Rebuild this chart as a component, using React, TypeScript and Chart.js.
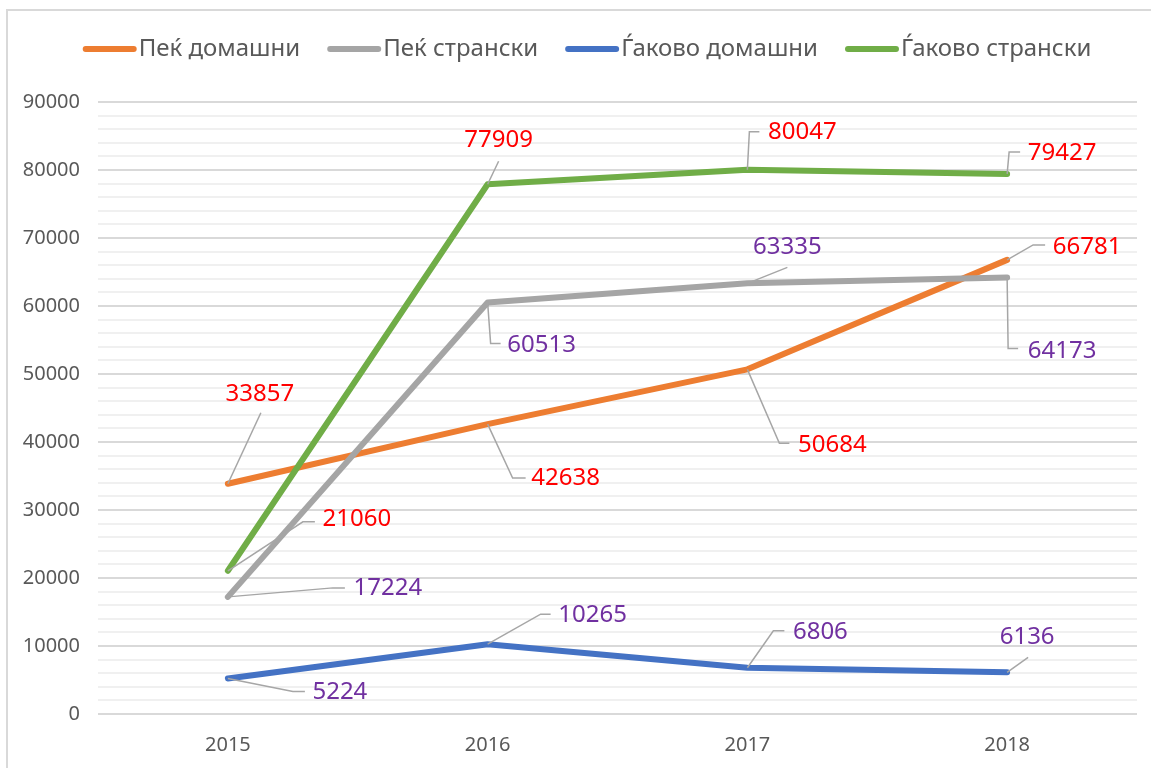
import React, { useEffect, useRef } from "react";
import { Chart, registerables } from "chart.js";

Chart.register(...registerables);

// ---------- data ----------
const YEARS = ["2015", "2016", "2017", "2018"];
const SERIES_NAMES = ["Пеќ домашни", "Пеќ странски", "Ѓаково домашни", "Ѓаково странски"];
const PEC_DOMESTIC = [33857, 42638, 50684, 66781];
const PEC_FOREIGN = [17224, 60513, 63335, 64173];
const GJAKOVO_DOMESTIC = [5224, 10265, 6806, 6136];
const GJAKOVO_FOREIGN = [21060, 77909, 80047, 79427];
const Y_MIN = 0;
const Y_MAX = 90000;
const Y_MAJOR = 10000;
const Y_MINOR = 2000;

// ---------- styles ----------
const SERIES_COLORS = ["#ED7D31", "#A5A5A5", "#4472C4", "#70AD47"];
const LABEL_COLORS = ["#FF0000", "#7030A0", "#7030A0", "#FF0000"];
const FONT = "'Noto Sans', 'Open Sans', sans-serif";

// label placement: [dx, dy] of label centre from point, leader path (relative points)
type Placement = { d: [number, number]; path: [number, number][] };
const LABEL_PLACEMENT: Placement[][] = [
  [
    { d: [32, -90], path: [[33, -71]] },
    { d: [78, 54], path: [[25, 54], [38, 54]] },
    { d: [85, 76], path: [[32, 74], [42, 74]] },
    { d: [80, -13], path: [[26, -15], [38, -15]] },
  ],
  [
    { d: [160, -9], path: [[105, -9], [117, -9]] },
    { d: [54, 43], path: [[3, 41], [13, 41]] },
    { d: [40, -36], path: [[40, -16]] },
    { d: [55, 74], path: [[1, 71], [11, 71]] },
  ],
  [
    { d: [112, 14], path: [[65, 13], [77, 13]] },
    { d: [105, -29], path: [[53, -30], [63, -30]] },
    { d: [73, -36], path: [[26, -37], [37, -37]] },
    { d: [20, -35], path: [[21, -15]] },
  ],
  [
    { d: [129, -52], path: [[75, -49], [87, -49]] },
    { d: [11, -44], path: [[11, -23]] },
    { d: [55, -38], path: [[2, -38], [12, -38]] },
    { d: [55, -21], path: [[2, -22], [13, -22]] },
  ],
];

const framePlugin = {
  id: "frame",
  beforeDraw(chart: any) {
    const ctx = chart.ctx;
    ctx.save();
    ctx.fillStyle = "#ffffff";
    ctx.fillRect(0, 0, chart.width, chart.height);
    ctx.strokeStyle = "#d9d9d9";
    ctx.lineWidth = 2;
    ctx.beginPath();
    ctx.moveTo(7, chart.height + 5);
    ctx.lineTo(7, 10);
    ctx.lineTo(chart.width + 5, 10);
    ctx.stroke();
    ctx.restore();
  },
};

const legendPlugin = {
  id: "customLegend",
  afterDraw(chart: any) {
    const ctx = chart.ctx;
    ctx.save();
    ctx.font = `24px ${FONT}`;
    const lineLen = 54;
    const gapText = 2;
    const gapItem = 27;
    const widths = SERIES_NAMES.map((n) => ctx.measureText(n).width);
    const total =
      widths.reduce((a, b) => a + b, 0) + SERIES_NAMES.length * (lineLen + gapText) + (SERIES_NAMES.length - 1) * gapItem;
    let x = 587 - total / 2;
    const y = 49;
    SERIES_NAMES.forEach((name, i) => {
      ctx.strokeStyle = SERIES_COLORS[i];
      ctx.lineWidth = 6;
      ctx.lineCap = "round";
      ctx.beginPath();
      ctx.moveTo(x + 3, y);
      ctx.lineTo(x + lineLen - 3, y);
      ctx.stroke();
      ctx.fillStyle = "#595959";
      ctx.textBaseline = "middle";
      ctx.textAlign = "left";
      ctx.fillText(name, x + lineLen + gapText, y);
      x += lineLen + gapText + widths[i] + gapItem;
    });
    ctx.restore();
  },
};

const dataLabelPlugin = {
  id: "leaderLabels",
  afterDatasetsDraw(chart: any) {
    const ctx = chart.ctx;
    ctx.save();
    chart.data.datasets.forEach((ds: any, i: number) => {
      const meta = chart.getDatasetMeta(i);
      meta.data.forEach((el: any, j: number) => {
        const p = LABEL_PLACEMENT[i][j];
        const x = el.x;
        const y = el.y;
        ctx.strokeStyle = "#A6A6A6";
        ctx.lineWidth = 1.5;
        ctx.lineCap = "butt";
        ctx.beginPath();
        ctx.moveTo(x, y);
        p.path.forEach(([px, py]) => ctx.lineTo(x + px, y + py));
        ctx.stroke();
        ctx.fillStyle = LABEL_COLORS[i];
        ctx.font = `24px ${FONT}`;
        ctx.textAlign = "center";
        ctx.textBaseline = "middle";
        ctx.fillText(String(ds.data[j]), x + p.d[0], y + p.d[1]);
      });
    });
    ctx.restore();
  },
};

export default function App() {
  const ref = useRef<HTMLCanvasElement | null>(null);

  useEffect(() => {
    if (!ref.current) return;
    const seriesValues = [PEC_DOMESTIC, PEC_FOREIGN, GJAKOVO_DOMESTIC, GJAKOVO_FOREIGN];
    const chart = new Chart(ref.current, {
      type: "line",
      data: {
        labels: YEARS,
        datasets: seriesValues.map((vals, i) => ({
          label: SERIES_NAMES[i],
          data: vals,
          borderColor: SERIES_COLORS[i],
          backgroundColor: SERIES_COLORS[i],
          borderWidth: 6,
          borderCapStyle: "round",
          borderJoinStyle: "round",
          pointRadius: 0,
          tension: 0,
          order: 4 - i,
        })),
      },
      options: {
        responsive: false,
        animation: false,
        layout: { padding: { top: 102, right: 14, bottom: 0, left: 0 } },
        plugins: {
          legend: { display: false },
          tooltip: { enabled: false },
        },
        scales: {
          x: {
            type: "category",
            offset: true,
            grid: { display: false, drawTicks: false },
            border: { display: false },
            ticks: { color: "#595959", font: { size: 20, family: FONT }, padding: 19 },
            afterFit: (scale: any) => {
              scale.height = 54;
            },
          },
          y: {
            min: Y_MIN,
            max: Y_MAX,
            border: { display: false },
            grid: {
              drawTicks: false,
              lineWidth: 2,
              color: (c: any) =>
                c.tick && c.tick.value % Y_MAJOR === 0 ? "#d9d9d9" : "#f0f0f0",
            },
            ticks: {
              stepSize: Y_MINOR,
              autoSkip: false,
              color: "#595959",
              font: { size: 20, family: FONT },
              padding: 18,
              callback: (v: any) => (Number(v) % Y_MAJOR === 0 ? String(v) : ""),
            },
            afterFit: (scale: any) => {
              scale.width = 98;
            },
          },
        },
      },
      plugins: [framePlugin, dataLabelPlugin, legendPlugin],
    } as any);
    return () => chart.destroy();
  }, []);

  return (
    <div style={{ position: "fixed", left: 0, top: 0, width: 1151, height: 768, background: "#fff" }}>
      <canvas ref={ref} width={1151} height={768} style={{ width: 1151, height: 768, display: "block" }} />
    </div>
  );
}
